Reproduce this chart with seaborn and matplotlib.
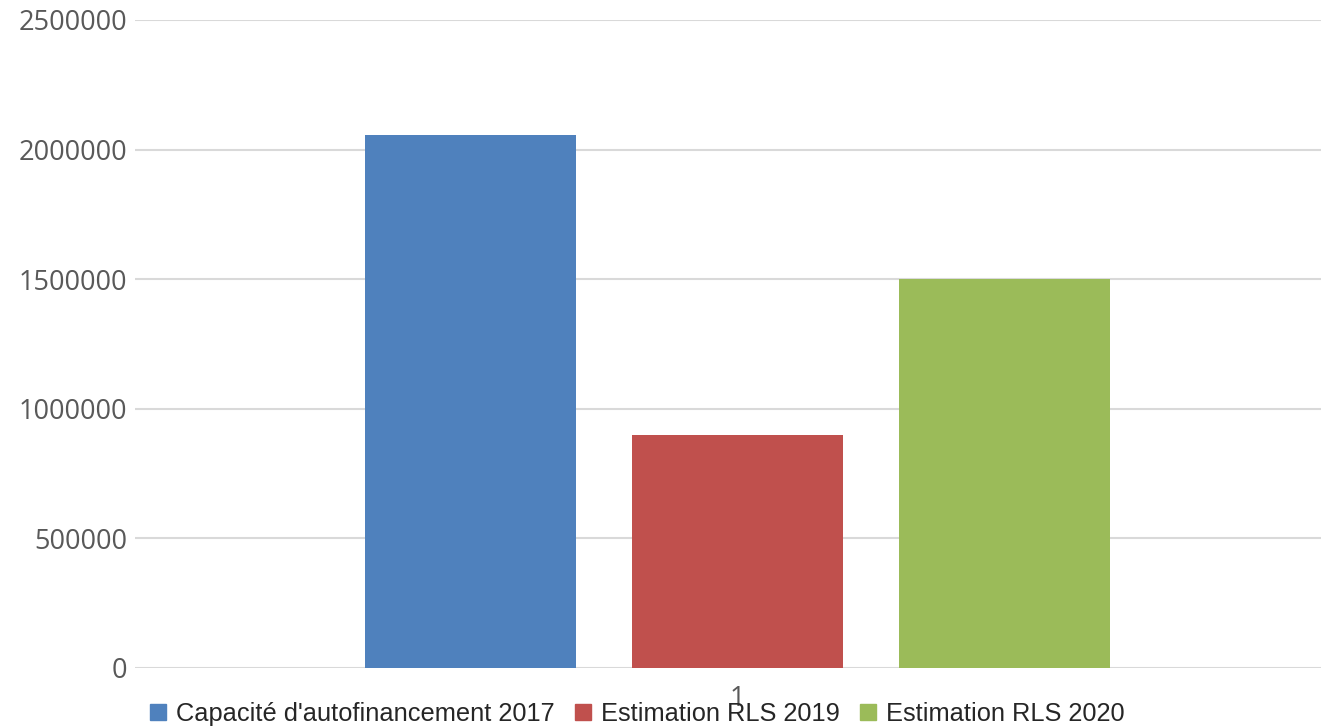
import matplotlib
matplotlib.use("Agg")
import matplotlib.pyplot as plt
import seaborn as sns
import pandas as pd

categories = ["1"]
series = ["Capacité d'autofinancement 2017", "Estimation RLS 2019", "Estimation RLS 2020"]
values = [2056000, 899000, 1500000]
colors = ["#4F81BD", "#C0504D", "#9BBB59"]
yticks = [0, 500000, 1000000, 1500000, 2000000, 2500000]

df = pd.DataFrame({"cat": categories * len(series), "series": series, "value": values})

sns.set_theme(style="white")
plt.rcParams['font.family'] = ['Liberation Sans', 'DejaVu Sans']

fig = plt.figure(figsize=(13.21, 7.28), dpi=100)
ax = fig.add_axes([135/1321, 1-668/728, (1340-135)/1321, (668-20)/728])

sns.barplot(data=df, x="cat", y="value", hue="series", palette=colors,
            width=0.665, gap=0.21, ax=ax, legend=False, saturation=1, linewidth=0)

ax.set_ylim(0, 2500000)
ax.set_yticks(yticks)
ax.set_yticklabels([str(v) for v in yticks], fontfamily="Open Sans", fontsize=19.5, color="#595959")
ax.set_xticks([0])
ax.set_xticklabels(categories, fontfamily="Open Sans", fontsize=19.5, color="#595959")
ax.tick_params(axis="x", length=0, pad=12)
ax.tick_params(axis="y", length=0, pad=5.5)
ax.set_xlabel("")
ax.set_ylabel("")
for s in ax.spines.values():
    s.set_visible(False)
ax.yaxis.grid(True, color="#D9D9D9", linewidth=1.5)
ax.set_axisbelow(True)

handles = [plt.Rectangle((0, 0), 1, 1, color=c) for c in colors]
fig.legend(handles, series, loc="center left", bbox_to_anchor=(150/1321, 1-714/728),
           ncol=3, frameon=False, fontsize=18.3, handlelength=0.62, handleheight=0.62,
           handletextpad=0.4, columnspacing=0.8, borderaxespad=0, borderpad=0)

fig.savefig("out.png", dpi=100)
